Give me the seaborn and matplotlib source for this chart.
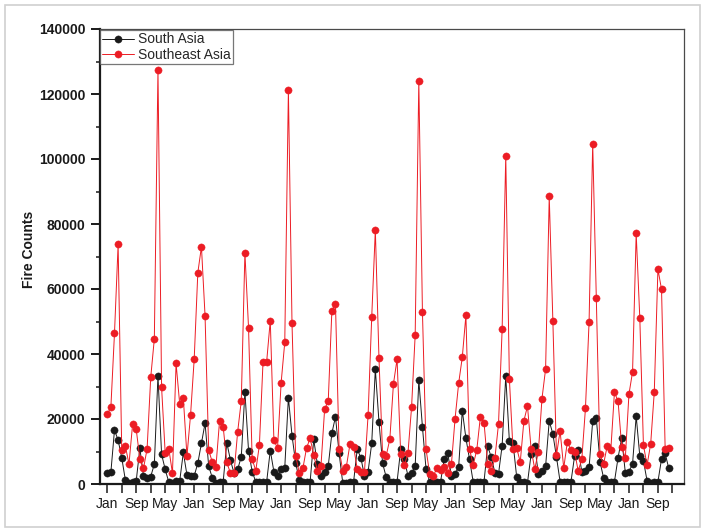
import numpy as np
import pandas as pd
import matplotlib
matplotlib.use("Agg")
import matplotlib.pyplot as plt
import seaborn as sns
from matplotlib.patches import Rectangle
from matplotlib.ticker import MultipleLocator, FixedLocator

# ---------------- data (thousands of fire counts, monthly Jan 2003 - Dec 2015) ----------------
south_asia_k = [
    3.3, 3.6, 16.6, 13.5, 8.1, 1.2, 0.4, 0.7, 1.0, 11.0, 2.5, 1.9,
    2.3, 6.1, 33.3, 9.1, 4.5, 0.5, 0.4, 0.9, 0.9, 9.7, 2.8, 2.5,
    2.5, 6.4, 12.5, 18.7, 5.5, 1.9, 0.4, 0.7, 0.7, 12.7, 7.4, 3.3,
    4.5, 8.4, 28.4, 10.3, 3.8, 0.7, 0.7, 0.7, 0.7, 10.3, 3.8, 2.6,
    4.5, 5.0, 26.6, 14.9, 6.6, 1.2, 0.5, 0.7, 0.7, 13.7, 6.1, 2.6,
    3.8, 5.5, 15.6, 20.7, 9.4, 0.4, 0.4, 0.5, 0.7, 10.7, 8.1, 2.5,
    3.8, 12.5, 35.3, 19.2, 6.4, 2.1, 0.7, 0.7, 0.7, 10.7, 7.6, 2.5,
    3.3, 5.5, 32.0, 17.6, 4.5, 0.7, 0.7, 0.7, 0.7, 7.6, 9.4, 2.5,
    3.1, 5.3, 22.6, 14.1, 7.6, 0.7, 0.5, 0.5, 0.7, 11.7, 8.2, 3.5,
    3.1, 11.8, 33.2, 13.2, 12.7, 2.3, 0.7, 0.7, 0.4, 9.2, 11.7, 3.1,
    4.1, 5.5, 19.4, 15.4, 8.3, 0.7, 0.5, 0.7, 0.7, 8.6, 10.4, 3.8,
    4.1, 5.1, 19.4, 20.2, 6.9, 1.9, 0.7, 0.7, 0.7, 8.1, 14.1, 3.5,
    3.8, 6.2, 20.9, 8.6, 7.2, 1.0, 0.4, 0.7, 0.7, 7.7, 9.4, 4.8,
]
southeast_asia_k = [
    21.5, 23.6, 46.4, 73.7, 10.5, 11.7, 6.1, 18.4, 16.8, 7.7, 4.8, 10.8,
    32.8, 44.7, 127.5, 29.7, 9.4, 10.8, 3.3, 37.1, 24.6, 26.5, 8.6, 21.3,
    38.4, 65.0, 73.0, 51.7, 10.5, 6.7, 5.3, 19.4, 17.6, 6.7, 3.3, 3.3,
    16.1, 25.6, 71.2, 48.1, 7.7, 4.1, 12.0, 37.6, 37.6, 50.3, 13.5, 11.0,
    31.2, 43.6, 121.2, 49.4, 8.7, 3.5, 4.8, 11.0, 14.1, 8.9, 4.1, 5.6,
    23.0, 25.5, 53.3, 55.3, 10.7, 4.1, 5.3, 12.3, 11.5, 4.6, 3.8, 3.8,
    21.2, 51.3, 78.2, 38.8, 9.2, 8.7, 13.8, 30.8, 38.4, 9.2, 5.7, 9.4,
    23.6, 45.9, 124.0, 53.0, 10.7, 3.1, 2.6, 4.8, 4.3, 5.3, 3.5, 6.1,
    20.0, 31.0, 39.0, 51.9, 10.8, 5.8, 10.5, 20.7, 18.9, 6.1, 4.0, 7.9,
    18.5, 47.6, 101.0, 32.3, 10.7, 11.2, 6.7, 19.4, 24.0, 10.7, 4.6, 9.9,
    26.3, 35.4, 88.5, 50.3, 8.9, 16.3, 4.9, 12.9, 10.4, 9.9, 4.0, 7.7,
    23.3, 49.9, 104.7, 57.1, 9.1, 6.1, 11.7, 10.5, 28.2, 25.5, 11.5, 7.9,
    27.6, 34.5, 77.1, 51.1, 12.0, 5.8, 12.3, 28.4, 66.1, 59.9, 10.7, 11.2,
]
series_names = ["South Asia", "Southeast Asia"]
month_names = ["Jan", "Feb", "Mar", "Apr", "May", "Jun",
               "Jul", "Aug", "Sep", "Oct", "Nov", "Dec"]
y_ticks = [0, 20000, 40000, 60000, 80000, 100000, 120000, 140000]

month_idx = np.arange(len(south_asia_k))
df = pd.DataFrame({
    "month": np.concatenate([month_idx, month_idx]),
    "fires": np.concatenate([np.array(south_asia_k), np.array(southeast_asia_k)]) * 1000,
    "region": [series_names[0]] * len(south_asia_k) + [series_names[1]] * len(southeast_asia_k),
})

# ---------------- style ----------------
sns.set_theme(style="white")
plt.rcParams["font.family"] = ["Liberation Sans", "DejaVu Sans"]

fig = plt.figure(figsize=(7.06, 5.31), dpi=100)
fig.patch.set_facecolor("white")
ax = fig.add_axes([100 / 706, 1 - 484 / 531, 584 / 706, 455 / 531])

palette = {series_names[0]: "#1a1a1a", series_names[1]: "#ec1c24"}
for name in series_names:
    sub = df[df["region"] == name]
    sns.lineplot(data=sub, x="month", y="fires", ax=ax, color=palette[name],
                 marker="o", markersize=5.2, markeredgewidth=0.3,
                 markeredgecolor=palette[name], linewidth=0.7, label=name)

ax.set_xlim(-2.0, 159.2)
ax.set_ylim(0, 140000)

# x ticks every 4 months, labels every 8 months
xt = list(range(0, 157, 4))
ax.xaxis.set_major_locator(FixedLocator(xt))
ax.set_xticklabels([month_names[t % 12] if t % 8 == 0 else "" for t in xt])
ax.yaxis.set_major_locator(FixedLocator(y_ticks))
ax.yaxis.set_minor_locator(MultipleLocator(10000))
ax.set_yticklabels([str(v) for v in y_ticks])

ax.tick_params(axis="x", which="major", direction="out", length=6.5, width=1.1,
               color="#1a1a1a", labelsize=10, pad=3, bottom=True)
ax.tick_params(axis="y", which="major", direction="out", length=6.5, width=1.4,
               color="#1a1a1a", labelsize=10, pad=4, left=True)
ax.tick_params(axis="y", which="minor", direction="out", length=3.2, width=1.1,
               color="#1a1a1a", left=True)
for lab in ax.get_yticklabels():
    lab.set_fontweight("bold")
    lab.set_color("#1a1a1a")
for lab in ax.get_xticklabels():
    lab.set_color("#1a1a1a")

for side in ["left", "bottom"]:
    ax.spines[side].set_color("#1a1a1a")
    ax.spines[side].set_linewidth(1.6)
for side in ["top", "right"]:
    ax.spines[side].set_color("#4a4a4a")
    ax.spines[side].set_linewidth(0.9)

ax.set_xlabel("")
ax.set_ylabel("Fire Counts", fontsize=10, fontweight="bold", color="#1a1a1a", labelpad=2)
ax.yaxis.set_label_coords(-64 / 584, 0.515)
ax.grid(False)

leg = ax.legend(loc="upper left", bbox_to_anchor=(0.0, 0.997), fontsize=10,
                frameon=True, fancybox=False, edgecolor="#555555",
                borderpad=0.15, labelspacing=0.1, handlelength=2.3,
                handletextpad=0.3, borderaxespad=0.0, numpoints=1)
leg.get_frame().set_linewidth(0.9)

# light outer border
fig.patches.append(Rectangle((5 / 706, 4 / 531), 695 / 706, 522 / 531,
                             transform=fig.transFigure, fill=False,
                             edgecolor="#d0d0d0", linewidth=1.2))

fig.savefig("out.png", dpi=100, facecolor="white")
